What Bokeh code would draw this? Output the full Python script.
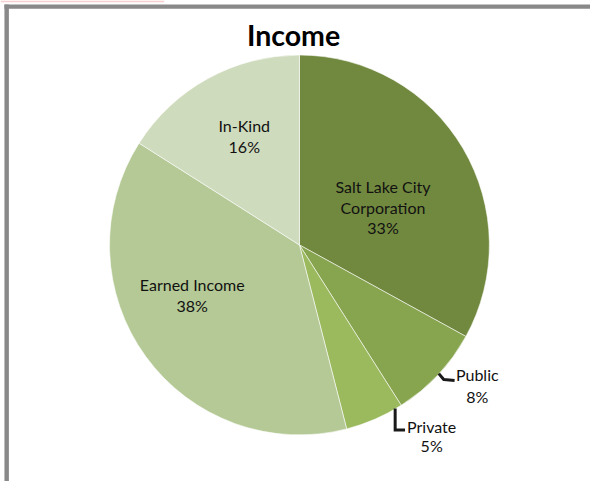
import math
from bokeh.plotting import figure
from bokeh.models import Range1d
from bokeh.core.properties import value
from bokeh.embed import file_html
from bokeh.resources import INLINE

# ---- data ----
categories = ["Salt Lake City Corporation", "Public", "Private", "Earned Income", "In-Kind"]
label_lines = [["Salt Lake City", "Corporation"], ["Public"], ["Private"], ["Earned Income"], ["In-Kind"]]
percents = [33, 8, 5, 38, 16]
colors = ["#71893f", "#87a44f", "#9bba5e", "#b4c995", "#cfdbbd"]
title_text = "Income"

# ---- layout (reference pixel coordinates, y negated) ----
W, H = 590, 481
RW, RH = 598, 489
p = figure(width=W, height=H, output_backend="svg", toolbar_location=None,
           x_range=Range1d(0, RW), y_range=Range1d(-RH, 0),
           min_border=0, background_fill_color="white", border_fill_color="white")
p.axis.visible = False
p.grid.visible = False
p.outline_line_color = None

# frame
p.quad(left=[0], right=[166], top=[0], bottom=[-1.8], fill_color="#f7cfcf", line_color=None)
p.quad(left=[4], right=[8.5], top=[-4], bottom=[-RH], fill_color="#898989", line_color=None)
p.quad(left=[4], right=[RW], top=[-4], bottom=[-8.5], fill_color="#898989", line_color=None)

cx, cy, R = 303.0, -248.5, 192.5
total = float(sum(percents))
starts, ends, mids = [], [], []
cum = 0.0
for v in percents:
    a0 = math.pi / 2 - 2 * math.pi * cum / total
    cum += v
    a1 = math.pi / 2 - 2 * math.pi * cum / total
    starts.append(a0)
    ends.append(a1)
    mids.append((a0 + a1) / 2)

p.wedge(x=[cx] * len(percents), y=[cy] * len(percents), radius=R,
        start_angle=starts, end_angle=ends, direction="clock",
        fill_color=colors, line_color="white", line_width=0.8, line_alpha=0.7)

# label placement: (distance from centre, angular shift in degrees, clockwise)
placement = [(93, 6.2), (230, -4.8), (236, -11.2), (120, 10.9), (124, 2.0)]
font = value("Lato")
spacing = [21, 22, 20, 21, 21]
label_centres = []
for i, (lines, pct) in enumerate(zip(label_lines, percents)):
    dist, shift = placement[i]
    ang = mids[i] - math.radians(shift)
    lx = cx + dist * math.cos(ang)
    ly = cy + dist * math.sin(ang)
    label_centres.append((lx, ly))
    all_lines = lines + [f"{pct}%"]
    n = len(all_lines)
    ys = [ly + (n - 1) / 2 * spacing[i] - k * spacing[i] for k in range(n)]
    p.text(x=[lx] * n, y=ys, text=all_lines, text_font=font, text_font_size="16px",
           text_color="#111111", text_align="center", text_baseline="middle")

# leader lines for the small outside labels
# Public
lx, ly = label_centres[1]
ang = mids[1] + math.radians(0.4)
sx, sy = cx + R * math.cos(ang), cy + R * math.sin(ang)
p.line(x=[sx, lx - 34, lx - 23], y=[sy, ly + 6, ly + 5], line_color="#1a1a1a",
       line_width=3, line_join="round")
# Private
lx, ly = label_centres[2]
vx = lx - 37
sy = cy - math.sqrt(R * R - (vx - cx) ** 2)
p.line(x=[vx, vx, vx + 10], y=[sy, ly + 6, ly + 6], line_color="#1a1a1a",
       line_width=3, line_join="miter")

# title
p.text(x=[297], y=[-35], text=[title_text], text_font=font, text_font_size="28.5px",
       text_font_style="bold", text_color="#000000", text_align="center", text_baseline="middle")

open("out.html", "w").write(file_html(p, INLINE))
